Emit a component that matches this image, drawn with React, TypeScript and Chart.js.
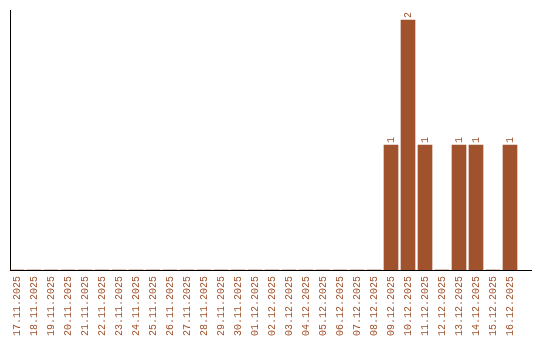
import React, { useEffect, useRef } from "react";
import { Chart, registerables } from "chart.js";

Chart.register(...registerables);

const categories: string[] = [
  "17.11.2025", "18.11.2025", "19.11.2025", "20.11.2025", "21.11.2025",
  "22.11.2025", "23.11.2025", "24.11.2025", "25.11.2025", "26.11.2025",
  "27.11.2025", "28.11.2025", "29.11.2025", "30.11.2025", "01.12.2025",
  "02.12.2025", "03.12.2025", "04.12.2025", "05.12.2025", "06.12.2025",
  "07.12.2025", "08.12.2025", "09.12.2025", "10.12.2025", "11.12.2025",
  "12.12.2025", "13.12.2025", "14.12.2025", "15.12.2025", "16.12.2025",
];

const counts: number[] = [
  0, 0, 0, 0, 0, 0, 0, 0, 0, 0,
  0, 0, 0, 0, 0, 0, 0, 0, 0, 0,
  0, 0, 1, 2, 1, 0, 1, 1, 0, 1,
];

const COLOR = "#A0522D";
const FONT_FAMILY = "'Liberation Mono', monospace";

const valueLabels = {
  id: "valueLabels",
  afterDatasetsDraw(chart: any) {
    const ctx = chart.ctx;
    const meta = chart.getDatasetMeta(0);
    ctx.save();
    ctx.fillStyle = COLOR;
    ctx.font = `10px ${FONT_FAMILY}`;
    ctx.textAlign = "left";
    ctx.textBaseline = "middle";
    meta.data.forEach((el: any, i: number) => {
      const v = counts[i];
      if (!v) return;
      ctx.save();
      ctx.translate(el.x, el.y - 2);
      ctx.rotate(-Math.PI / 2);
      ctx.fillText(String(v), 0, 0);
      ctx.restore();
    });
    ctx.restore();
  },
};

export default function App() {
  const ref = useRef<HTMLCanvasElement | null>(null);

  useEffect(() => {
    if (!ref.current) return;
    const chart = new Chart(ref.current, {
      type: "bar",
      data: {
        datasets: [
          {
            data: counts.map((v, i) => ({ x: i, y: v })),
            backgroundColor: COLOR,
            borderWidth: 0,
            barThickness: 14,
          },
        ],
      },
      options: {
        animation: false,
        responsive: false,
        maintainAspectRatio: false,
        layout: { padding: { left: 10, right: 9, top: 10, bottom: 0 } },
        plugins: {
          legend: { display: false },
          tooltip: { enabled: false },
          title: { display: false },
        },
        scales: {
          x: {
            type: "linear",
            offset: false,
            min: -7 / 17,
            max: 29 + 21 / 17,
            grid: { display: false, drawTicks: false, offset: false },
            border: { display: true, color: "#000000", width: 1 },
            afterBuildTicks: (axis: any) => {
              axis.ticks = categories.map((_, i) => ({ value: i }));
            },
            afterFit: (scale: any) => {
              scale.height = 70;
              scale.paddingLeft = 0;
              scale.paddingRight = 0;
            },
            ticks: {
              autoSkip: false,
              maxRotation: 90,
              minRotation: 90,
              padding: 6,
              color: COLOR,
              font: { family: FONT_FAMILY, size: 10 },
              callback: (value: any) => categories[value as number] ?? "",
            },
          },
          y: {
            min: 0,
            max: 2.08,
            grid: { display: false, drawTicks: false },
            border: { display: true, color: "#000000", width: 1 },
            ticks: { display: false },
            afterFit: (scale: any) => {
              scale.width = 0;
            },
          },
        },
      },
      plugins: [valueLabels],
    });
    return () => chart.destroy();
  }, []);

  return (
    <div style={{ position: "absolute", left: 0, top: 0, width: 540, height: 340, background: "#fff" }}>
      <canvas ref={ref} width={540} height={340} style={{ width: 540, height: 340 }} />
    </div>
  );
}
